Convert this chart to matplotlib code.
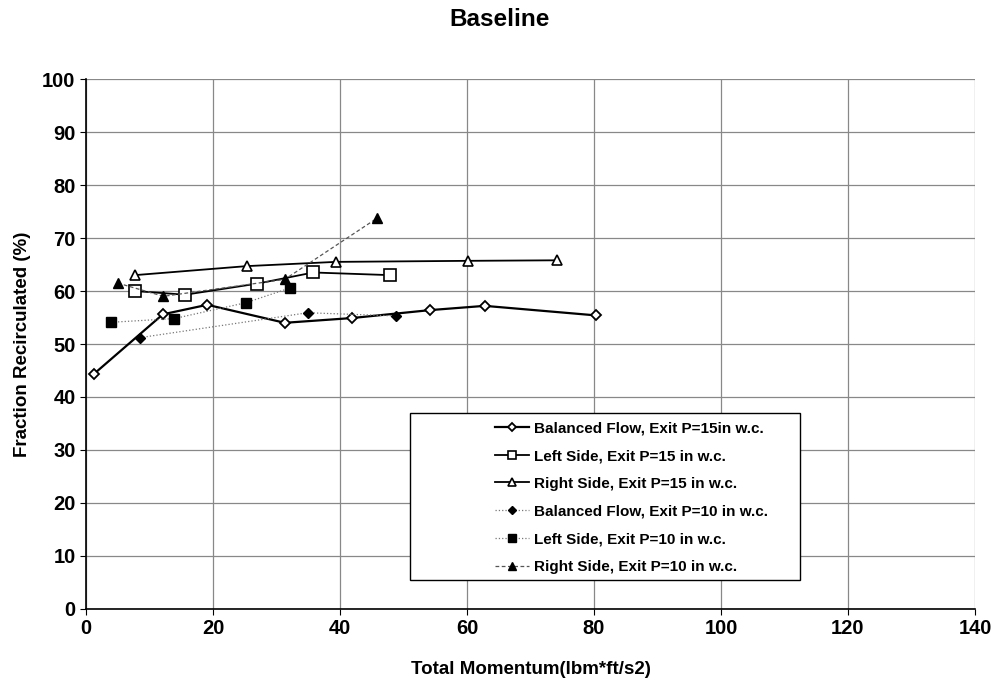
import numpy as np
import matplotlib.pyplot as plt
from matplotlib.patches import Rectangle

plt.rcParams['font.family'] = ['Liberation Sans', 'DejaVu Sans']
plt.rcParams['font.weight'] = 'bold'

# Balanced flow, exit P=15 in w.c.
bal15_x = [1.3, 12.1, 19.1, 31.3, 41.9, 54.2, 62.8, 80.3]
bal15_y = [44.4, 55.6, 57.4, 54.0, 54.9, 56.4, 57.2, 55.4]
# Left side, exit P=15
left15_x = [7.7, 15.6, 27.0, 35.8, 47.9]
left15_y = [60.0, 59.3, 61.4, 63.5, 63.0]
# Right side, exit P=15
right15_x = [7.7, 25.3, 39.3, 60.2, 74.2]
right15_y = [63.0, 64.7, 65.5, 65.7, 65.8]
# Balanced flow, exit P=10
bal10_x = [8.5, 34.9, 48.8]
bal10_y = [51.2, 55.9, 55.3]
# Left side, exit P=10
left10_x = [4.0, 13.9, 25.2, 32.2]
left10_y = [54.1, 54.8, 57.8, 60.6]
# Right side, exit P=10
right10_x = [5.0, 12.2, 31.3, 45.9]
right10_y = [61.5, 59.0, 62.2, 73.8]

fig = plt.figure(figsize=(10, 6.88), dpi=100)
ax = fig.add_axes([0.086, 0.115, 0.889, 0.770])

ax.plot(bal15_x, bal15_y, color='black', lw=1.6, marker='D', ms=5.5,
        mfc='white', mec='black', mew=1.3,
        label='Balanced Flow, Exit P=15in w.c.')
ax.plot(left15_x, left15_y, color='black', lw=1.3, marker='s', ms=8,
        mfc='white', mec='black', mew=1.2,
        label='Left Side, Exit P=15 in w.c.')
ax.plot(right15_x, right15_y, color='black', lw=1.3, marker='^', ms=7,
        mfc='white', mec='black', mew=1.2,
        label='Right Side, Exit P=15 in w.c.')
ax.plot(bal10_x, bal10_y, color='#777777', lw=0.9, ls=':', marker='D', ms=5.5,
        mfc='black', mec='black',
        label='Balanced Flow, Exit P=10 in w.c.')
ax.plot(left10_x, left10_y, color='#777777', lw=0.9, ls=':', marker='s', ms=7.5,
        mfc='black', mec='black',
        label='Left Side, Exit P=10 in w.c.')
ax.plot(right10_x, right10_y, color='#555555', lw=0.9, ls=(0, (3, 2)), marker='^', ms=7.5,
        mfc='black', mec='black',
        label='Right Side, Exit P=10 in w.c.')

ax.set_xlim(0, 140)
ax.set_ylim(0, 100)
ax.set_xticks(np.arange(0, 141, 20))
ax.set_yticks(np.arange(0, 101, 10))
ax.grid(True, color='#888888', lw=0.9)
ax.set_axisbelow(True)
for s in ['top', 'right']:
    ax.spines[s].set_visible(False)
ax.spines['left'].set_linewidth(1.2)
ax.spines['bottom'].set_linewidth(1.2)
ax.tick_params(labelsize=14.5, length=4, direction='out')
for lab in ax.get_xticklabels() + ax.get_yticklabels():
    lab.set_fontweight('bold')

ax.set_xlabel('Total Momentum(lbm*ft/s2)', fontsize=13.5, fontweight='bold', labelpad=16)
ax.set_ylabel('Fraction Recirculated (%)', fontsize=13.5, fontweight='bold', labelpad=8)
fig.suptitle('Baseline', fontsize=17.5, fontweight='bold', y=0.988)

# legend box (white frame, with the entries indented inside)
box = Rectangle((0.364, 0.055), 0.439, 0.315, transform=ax.transAxes,
                facecolor='white', edgecolor='black', lw=1.0, zorder=5)
ax.add_patch(box)
leg = ax.legend(loc='upper left', bbox_to_anchor=(0.443, 0.383),
                fontsize=11, frameon=False, handlelength=2.2,
                labelspacing=0.9, borderpad=0.5, handletextpad=0.35,
                markerscale=0.75)
leg.set_zorder(6)
for t in leg.get_texts():
    t.set_fontweight('bold')

fig.savefig('out.png', dpi=100)
